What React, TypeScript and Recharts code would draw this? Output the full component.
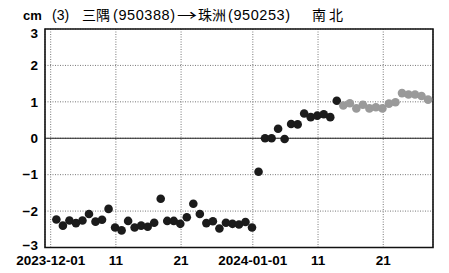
import React from 'react';
import {
  ScatterChart,
  Scatter,
  XAxis,
  YAxis,
  CartesianGrid,
  ReferenceLine,
  ReferenceArea,
} from 'recharts';

// daily values, cm (north-south component)
const decValues = [
  -2.23, -2.4, -2.26, -2.33, -2.26, -2.08, -2.29, -2.24, -1.94, -2.45,
  -2.53, -2.27, -2.45, -2.4, -2.43, -2.32, -1.66, -2.27, -2.27, -2.35,
  -2.17, -1.8, -2.08, -2.33, -2.28, -2.48, -2.32, -2.35, -2.37, -2.3, -2.45,
];
const janValues = [-0.92, 0.0, 0.0, 0.26, -0.02, 0.39, 0.38, 0.68, 0.58, 0.62, 0.66, 0.58, 1.03];
const janPrelimValues = [0.9, 0.96, 0.82, 0.92, 0.82, 0.85, 0.82, 0.95, 0.99, 1.24, 1.2, 1.2, 1.16, 1.06];

const xTicks = [0, 10, 20, 31, 41, 51];
const xTickLabels = ['2023-12-01', '11', '21', '2024-01-01', '11', '21'];
const yTicks = [-3, -2, -1, 0, 1, 2, 3];

const X_DOMAIN: [number, number] = [-0.87, 58.63];
const Y_DOMAIN: [number, number] = [-3, 3];
const OBS_OFFSET = 21 / 24; // observation time within the day

// day index counted from 2023-12-01
const toPoints = (values: number[], startDay: number) =>
  values.map((v, i) => ({ day: startDay + i + OBS_OFFSET, value: v }));

const finalData = [...toPoints(decValues, 0), ...toPoints(janValues, 31)];
const prelimData = toPoints(janPrelimValues, 31 + janValues.length);

const FONT = "'Liberation Sans', 'Noto Sans CJK JP', sans-serif";
const CJK = "'Noto Sans CJK JP', sans-serif";

const fmtY = (v: number) => (v < 0 ? '\u2212' + Math.abs(v) : String(v));

const YTick = (props: any) => {
  const { x, y, payload } = props;
  const shift = payload.value === 3 ? 4 : payload.value === -3 ? -2 : 0;
  return (
    <text x={x} y={y + shift} dy="0.355em" textAnchor="end" fill="#000" fontSize={13.5} fontWeight="bold" fontFamily={FONT}>
      {fmtY(payload.value)}
    </text>
  );
};

const dot = (color: string) => (p: any) => <circle cx={p.cx} cy={p.cy} r={4.3} fill={color} />;

export default function App() {
  return (
    <div style={{ position: 'absolute', left: 0, top: 0, width: 449, height: 273, background: '#fff' }}>
      <ScatterChart width={449} height={273} margin={{ top: 29, right: 16, bottom: 0, left: 0 }}>
        <CartesianGrid stroke="#777" strokeDasharray="1 1.5" />
        <XAxis
          type="number"
          dataKey="day"
          domain={X_DOMAIN}
          ticks={xTicks}
          allowDataOverflow
          height={25.5}
          tickSize={0}
          tickMargin={8}
          axisLine={false}
          tickFormatter={(v: number) => xTickLabels[xTicks.indexOf(v)]}
          tick={{ fill: '#000', fontSize: 13.5, fontWeight: 'bold', fontFamily: FONT }}
        />
        <YAxis
          type="number"
          dataKey="value"
          domain={Y_DOMAIN}
          ticks={yTicks}
          allowDataOverflow
          width={45}
          tickSize={0}
          tickMargin={7}
          axisLine={false}
          tick={<YTick />}
        />
        <ReferenceLine y={0} stroke="#222" strokeWidth={1} />
        <ReferenceArea
          x1={X_DOMAIN[0]}
          x2={X_DOMAIN[1]}
          y1={Y_DOMAIN[0]}
          y2={Y_DOMAIN[1]}
          fill="none"
          stroke="#111"
          strokeWidth={1.6}
        />
        <Scatter data={finalData} shape={dot('#1b1b1b')} isAnimationActive={false} />
        <Scatter data={prelimData} shape={dot('#9a9a9a')} isAnimationActive={false} />
      </ScatterChart>
      <svg width={449} height={30} style={{ position: 'absolute', left: 0, top: 0 }}>
        <g fill="#000">
          <text x={23} y={19.5} fontSize={13} fontWeight="bold" fontFamily={FONT}>cm</text>
          <text x={52} y={20} fontSize={14} fontFamily={FONT}>(3)</text>
          <text x={82} y={20} fontSize={14} fontFamily={CJK}>三隅</text>
          <text x={113} y={20} fontSize={14.5} fontFamily={FONT} textLength={62} lengthAdjust="spacing">(950388)</text>
          <text x={177} y={20} fontSize={14} fontFamily={CJK} textLength={20} lengthAdjust="spacingAndGlyphs">→</text>
          <text x={198} y={20} fontSize={14} fontFamily={CJK}>珠洲</text>
          <text x={228} y={20} fontSize={14.5} fontFamily={FONT} textLength={62} lengthAdjust="spacing">(950253)</text>
          <text x={312} y={20} fontSize={14} fontFamily={CJK} textLength={31} lengthAdjust="spacing">南北</text>
        </g>
      </svg>
    </div>
  );
}
